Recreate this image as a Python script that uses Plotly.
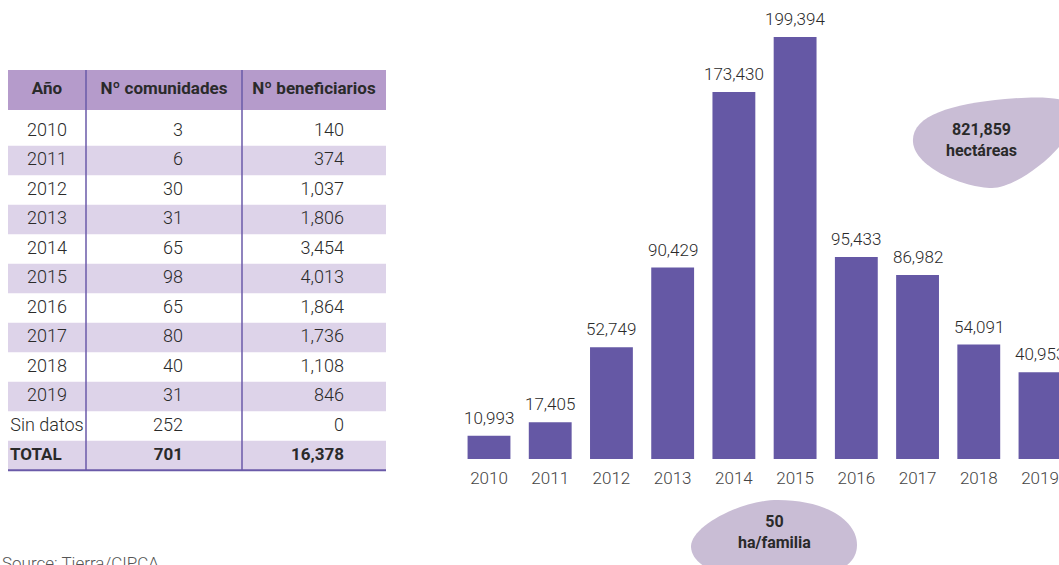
import plotly.graph_objects as go

# ---------------- data ----------------
years = [2010, 2011, 2012, 2013, 2014, 2015, 2016, 2017, 2018, 2019]
hectares = [10993, 17405, 52749, 90429, 173430, 199394, 95433, 86982, 54091, 40953]

table_header = ["Año", "Nº comunidades", "Nº beneficiarios"]
table_years = ["2010", "2011", "2012", "2013", "2014", "2015", "2016", "2017", "2018", "2019", "Sin datos", "TOTAL"]
table_comunidades = [3, 6, 30, 31, 65, 98, 65, 80, 40, 31, 252, 701]
table_beneficiarios = [140, 374, 1037, 1806, 3454, 4013, 1864, 1736, 1108, 846, 0, 16378]

total_ha_text = "821,859<br>hectáreas"
per_family_text = "50<br>ha/familia"
source_text = "Source: Tierra/CIPCA"

# ---------------- styles ----------------
W, H = 1059, 565          # browser window
OFF = 0                   # page body margin removed below
FW, FH = W - OFF, H - OFF
BAR = "#6558a5"
HEAD = "#b59bcb"
STRIPE = "#ddd3e9"
LINE = "#6a5aa8"
BLOB = "#c9bdd5"
TXT = "#2a2a2a"
FONT = "Roboto"

def PX(x):  # window pixel -> paper x
    return (x - OFF) / FW

def PY(y):  # window pixel -> paper y
    return 1 - (y - OFF) / FH

fig = go.Figure()

# ---------------- bar chart ----------------
px_2010, px_2019 = 489, 1040
slope = (px_2019 - px_2010) / 9.0
x0 = 2010 - (px_2010 - OFF) / slope
x1 = 2019 + (W - px_2019) / slope
base_px = 459
top_val_px = 37  # top of 2015 bar
ppv = (base_px - top_val_px) / max(hectares)
ytop = (base_px - OFF) / ppv

fig.add_trace(go.Bar(
    x=years, y=hectares, marker=dict(color=BAR, line=dict(width=0)),
    width=0.7, xaxis="x", yaxis="y", hoverinfo="skip", showlegend=False,
))

for yr, v in zip(years, hectares):
    fig.add_annotation(
        x=yr, y=v, xref="x", yref="y", text=f"{v:,}", showarrow=False,
        xanchor="center", yanchor="bottom", yshift=6,
        font=dict(family=FONT, size=17, color=TXT, weight=300),
    )

# ---------------- table ----------------
row_h = 29.5
row0_px = 131
def rowpos(py):
    return (py - row0_px) / row_h

col_edges = [8, 86, 242, 386]
head_top, head_bot = rowpos(70), rowpos(110)
n = len(table_years)

shapes = []
shapes.append(dict(type="rect", xref="x2", yref="y2", x0=col_edges[0], x1=col_edges[3],
                   y0=head_top, y1=head_bot, fillcolor=HEAD, line=dict(width=0), layer="below"))
for i in range(n):
    if i % 2 == 1:
        shapes.append(dict(type="rect", xref="x2", yref="y2", x0=col_edges[0], x1=col_edges[3],
                           y0=i - 0.5, y1=i + 0.5, fillcolor=STRIPE, line=dict(width=0), layer="below"))
for ce in col_edges[1:3]:
    shapes.append(dict(type="line", xref="x2", yref="y2", x0=ce, x1=ce, y0=head_top, y1=n - 0.5,
                       line=dict(color=LINE, width=1.5)))
shapes.append(dict(type="line", xref="x2", yref="y2", x0=col_edges[0], x1=col_edges[3],
                   y0=n - 0.5, y1=n - 0.5, line=dict(color=LINE, width=2)))

rows = list(range(n))
body_font = dict(family=FONT, size=18, color=TXT, weight=300)
bold_font = dict(family=FONT, size=17, color=TXT)

def text_trace(xs, ys, texts, pos, font):
    fig.add_trace(go.Scatter(
        x=xs, y=ys, text=texts, mode="text", textposition=pos, textfont=font,
        xaxis="x2", yaxis="y2", hoverinfo="skip", showlegend=False))

# header
text_trace([47, 164, 314], [rowpos(90)] * 3, [f"<b>{h}</b>" for h in table_header],
           "middle center", bold_font)
# year column
text_trace([47] * (n - 1), rows[:-1], table_years[:-1], "middle center", body_font)
text_trace([10], [rows[-1]], [f"<b>{table_years[-1]}</b>"], "middle right", bold_font)
# comunidades
text_trace([183] * (n - 1), rows[:-1], [f"{v:,}" for v in table_comunidades[:-1]], "middle left", body_font)
text_trace([183], [rows[-1]], [f"<b>{table_comunidades[-1]:,}</b>"], "middle left", bold_font)
# beneficiarios
text_trace([344] * (n - 1), rows[:-1], [f"{v:,}" for v in table_beneficiarios[:-1]], "middle left", body_font)
text_trace([344], [rows[-1]], [f"<b>{table_beneficiarios[-1]:,}</b>"], "middle left", bold_font)

# ---------------- blobs ----------------
def P(x, y):
    return f"{PX(x):.5f},{PY(y):.5f}"

blob1 = ("M " + P(913, 142) +
         " C " + P(911, 116) + " " + P(950, 104) + " " + P(1005, 99) +
         " C " + P(1040, 96) + " " + P(1070, 96) + " " + P(1075, 110) +
         " C " + P(1080, 140) + " " + P(1020, 188) + " " + P(992, 188) +
         " C " + P(965, 188) + " " + P(915, 168) + " " + P(913, 142) + " Z")
blob2 = ("M " + P(691, 547) +
         " C " + P(690, 527) + " " + P(740, 500) + " " + P(778, 500) +
         " C " + P(825, 500) + " " + P(857, 520) + " " + P(857, 545) +
         " C " + P(857, 568) + " " + P(830, 580) + " " + P(775, 580) +
         " C " + P(720, 580) + " " + P(692, 566) + " " + P(691, 547) + " Z")
for pth in (blob1, blob2):
    shapes.append(dict(type="path", xref="paper", yref="paper", path=pth,
                       fillcolor=BLOB, line=dict(width=0), layer="below"))

fig.add_annotation(x=PX(981), y=PY(140), xref="paper", yref="paper", text=f"<b>{total_ha_text}</b>",
                   showarrow=False, xanchor="center", yanchor="middle",
                   font=dict(family=FONT, size=16, color=TXT), align="center")
fig.add_annotation(x=PX(774), y=PY(532), xref="paper", yref="paper", text=f"<b>{per_family_text}</b>",
                   showarrow=False, xanchor="center", yanchor="middle",
                   font=dict(family=FONT, size=16, color=TXT), align="center")
fig.add_annotation(x=PX(0), y=PY(563), xref="paper", yref="paper", text=source_text,
                   showarrow=False, xanchor="left", yanchor="middle",
                   font=dict(family=FONT, size=17, color="#555555", weight=300))

# ---------------- layout ----------------
fig.update_layout(
    width=FW, height=FH, margin=dict(l=0, r=0, t=0, b=0, autoexpand=False),
    paper_bgcolor="white", plot_bgcolor="rgba(0,0,0,0)",
    shapes=shapes,
    xaxis=dict(domain=[0, 1], range=[x0, x1], tickvals=years, ticktext=[str(y) for y in years],
               showgrid=False, zeroline=False, showline=False, ticks="",
               tickfont=dict(family=FONT, size=17, color="#444444", weight=300), ticklabelstandoff=7,
               fixedrange=True, automargin=False),
    yaxis=dict(domain=[1 - (base_px - OFF) / FH, 1], range=[0, ytop], visible=False, fixedrange=True),
    xaxis2=dict(domain=[0, 1], range=[OFF, W], visible=False, fixedrange=True, anchor="y2"),
    yaxis2=dict(domain=[0, 1], range=[rowpos(H), rowpos(OFF)], visible=False, fixedrange=True,
                anchor="x2"),
)

fig.write_html(
    "out.html",
    config={"displayModeBar": False},
    post_script="document.body.style.margin='0';document.documentElement.style.overflow='hidden';",
)
